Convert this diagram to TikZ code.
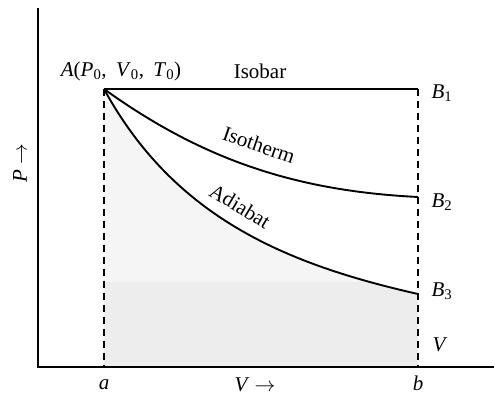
\documentclass[tikz,border=0pt]{standalone}
\usepackage{fontspec}
\setmainfont{Liberation Serif}
\newcommand{\ital}[1]{\textit{#1}}
\begin{document}
\begin{tikzpicture}[x=1pt,y=-1pt,
  axis/.style={line width=2pt},
  curve/.style={line width=1.9pt},
  guide/.style={line width=2.4pt,dash pattern=on 7pt off 5pt},
  lbl/.style={inner sep=0pt,font=\fontsize{21}{24}\selectfont}]
\useasboundingbox (0,0) rectangle (494,398);
% key points
\coordinate (A) at (104,89);
\coordinate (B1) at (418,89);
\coordinate (B2) at (418,197);
\coordinate (B3) at (418,294);
\coordinate (a) at (104,367);
\coordinate (b) at (418,367);
\coordinate (O) at (38,367);
\coordinate (Ytop) at (38,8);
\coordinate (Xend) at (494,367);
% shading under adiabat
\begin{scope}
  \clip (A) .. controls (174,217) and (285,264) .. (B3) -- (b) -- (a) -- cycle;
  \fill[black!4] (104,89) rectangle (418,367);
  \fill[black!7] (104,282) rectangle (418,367);
\end{scope}
% axes
\draw[axis] (Ytop) -- (O) -- (Xend);
% dashed verticals
\draw[guide] (A) -- (a);
\draw[guide] (B1) -- (b);
% processes
\draw[curve] (A) -- (B1);
\draw[curve] (A) .. controls (204,161) and (298,191) .. (B2);
\draw[curve] (A) .. controls (174,217) and (285,264) .. (B3);
% labels
\node[lbl] (lA) at (121,71) {\ital{A}(\ital{P}\textsubscript{0},\hspace{0.45em}\ital{V}\textsubscript{0},\hspace{0.45em}\ital{T}\textsubscript{0})};
\node[lbl] (lIsobar) at (260,71) {Isobar};
\node[lbl] (lB1) at (442,93) {\ital{B}\textsubscript{1}};
\node[lbl] (lB2) at (442,202) {\ital{B}\textsubscript{2}};
\node[lbl] (lB3) at (442,291) {\ital{B}\textsubscript{3}};
\node[lbl] (lV) at (440,345) {\ital{V}};
\node[lbl,rotate=-19] (lIso) at (259,145) {Isotherm};
\node[lbl,rotate=-31] (lAdi) at (240,206) {Adiabat};
\node[lbl] (la) at (104,385) {\ital{a}};
\node[lbl] (lb) at (418,383) {\ital{b}};
\node[lbl] (lVx) at (255,385) {\ital{V} $\rightarrow$};
\node[lbl,rotate=90] (lP) at (20,163) {\ital{P} $\rightarrow$};
\end{tikzpicture}
\end{document}
